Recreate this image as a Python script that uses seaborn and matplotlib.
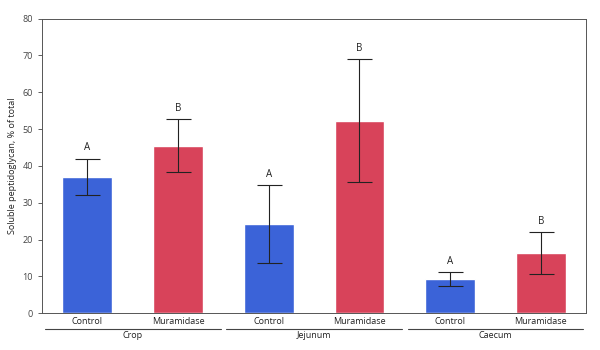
import matplotlib
matplotlib.use("Agg")
import matplotlib.pyplot as plt
import seaborn as sns
import pandas as pd
import numpy as np

sites = ["Crop", "Jejunum", "Caecum"]
treatments = ["Control", "Muramidase"]
means = [37.0, 45.5, 24.2, 52.3, 9.2, 16.3]
errors = [5.0, 7.2, 10.6, 16.7, 1.9, 5.7]
letters = ["A", "B", "A", "B", "A", "B"]
colors = {"Control": "#3b63d8", "Muramidase": "#d8435a"}

rows = []
for i, s in enumerate(sites):
    for j, t in enumerate(treatments):
        rows.append({"pos": f"{s}-{t}", "site": s, "treatment": t,
                     "mean": means[i * 2 + j], "err": errors[i * 2 + j],
                     "letter": letters[i * 2 + j]})
df = pd.DataFrame(rows)

sns.set_style("white")
plt.rcParams["font.family"] = ["Open Sans", "DejaVu Sans"]

fig, ax = plt.subplots(figsize=(6.0, 3.5), dpi=100)
fig.subplots_adjust(left=0.07, right=0.977, top=0.947, bottom=0.105)

sns.barplot(data=df, x="pos", y="mean", hue="treatment", palette=colors,
            dodge=False, width=0.55, ax=ax, legend=False, saturation=1)

x = np.arange(len(df))
ax.errorbar(x, df["mean"], yerr=df["err"], fmt="none", ecolor="#222222",
            elinewidth=0.8, capsize=9, capthick=0.8)
for xi, m, e, l in zip(x, df["mean"], df["err"], df["letter"]):
    ax.text(xi, m + e + 1.5, l, ha="center", va="bottom", fontsize=7, color="#222222")

ax.set_ylim(0, 80)
ax.set_xlim(-0.5, 5.5)
ax.set_yticks(range(0, 81, 10))
ax.set_xticks(x)
ax.set_xticklabels(df["treatment"], fontsize=6.5, color="#222222")
ax.tick_params(axis="y", labelsize=6.5, colors="#444444", length=3, width=0.6, left=True)
ax.tick_params(axis="x", length=0, pad=3)
ax.set_xlabel("")
ax.set_ylabel("Soluble peptidoglycan, % of total", fontsize=6.5, color="#222222")
for sp in ax.spines.values():
    sp.set_color("#555555")
    sp.set_linewidth(0.7)

# group labels with lines underneath tick labels
trans = ax.get_xaxis_transform()
for i, s in enumerate(sites):
    x0, x1 = 2 * i - 0.5 + 0.03, 2 * i + 1.5 - 0.03
    ax.plot([x0, x1], [-0.054, -0.054], transform=trans, color="#444444",
            lw=0.8, clip_on=False)
    ax.text(2 * i + 0.5, -0.06, s, transform=trans, ha="center", va="top",
            fontsize=6.5, color="#222222")

fig.savefig("out.png", dpi=100)
